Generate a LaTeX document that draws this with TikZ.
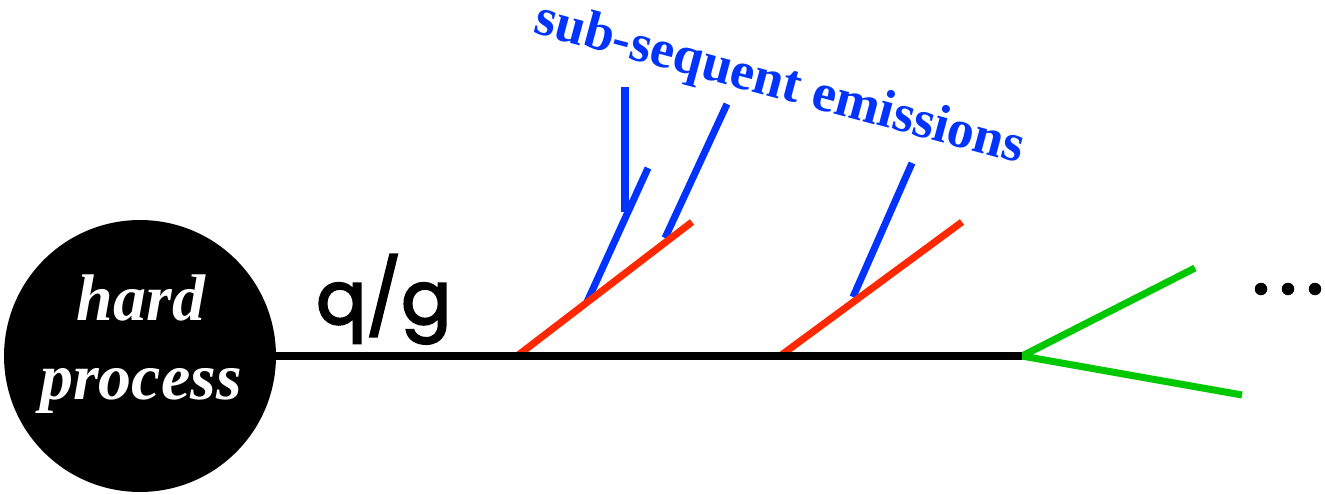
\documentclass[tikz,border=0pt]{standalone}
\usepackage{fontspec}
\setmainfont{Liberation Serif}
\newfontfamily\popp[FakeBold=3]{Poppins}
\definecolor{emred}{RGB}{255,40,0}
\definecolor{emblue}{RGB}{0,51,255}
\definecolor{emgreen}{RGB}{0,200,0}
\begin{document}
\begin{tikzpicture}[x=0.02cm,y=-0.02cm,
  parton/.style={line width=4.4pt},
  redleg/.style={line width=4pt,color=emred},
  blueleg/.style={line width=4pt,color=emblue},
  greenleg/.style={line width=4pt,color=emgreen},
  dotmark/.style={circle,fill=black,inner sep=0pt,minimum size=0.25cm}]
\useasboundingbox (0,0) rectangle (1325,494);
\node[circle,fill=black,minimum size=5.44cm,inner sep=0pt] (hp) at (140,356) {};
\node[text=white,font=\fontsize{37.5}{45}\selectfont\bfseries\itshape,align=center,inner sep=0pt] (hptext) at (141,344) {hard\\process};
% vertices
\coordinate (v1) at (517,356);
\coordinate (v2) at (780,356);
\coordinate (v3) at (1022,356);
\coordinate (r1) at (692,222);
\coordinate (r2) at (962,222);
\coordinate (b1) at (587,302);
\coordinate (b1e) at (648,168);
\coordinate (bj) at (625,212);
\coordinate (bv) at (625,87);
\coordinate (b2s) at (665,238);
\coordinate (b2e) at (727,104);
\coordinate (b3s) at (853,297);
\coordinate (b3e) at (912,163);
\coordinate (g1) at (1195,268);
\coordinate (g2) at (1242,395);
\draw[blueleg] (b1) -- (b1e);
\draw[blueleg] (bj) -- (bv);
\draw[blueleg] (b2s) -- (b2e);
\draw[blueleg] (b3s) -- (b3e);
\draw[redleg] (v1) -- (r1);
\draw[redleg] (v2) -- (r2);
\draw[greenleg] (g1) -- (v3) -- (g2);
\draw[parton] (hp.east) -- (v3);
\node[font=\popp\fontsize{42}{42}\selectfont,anchor=base west,inner sep=0pt] (qg) at (316,324) {q/g};
\node[font=\fontsize{30.5}{36}\selectfont\bfseries,text=emblue,anchor=base,rotate=-15,inner sep=0pt] (lab) at (776,98) {sub-sequent emissions};
\node[dotmark] (d1) at (1261,289) {};
\node[dotmark] (d2) at (1288,289) {};
\node[dotmark] (d3) at (1315,289) {};
\end{tikzpicture}
\end{document}
